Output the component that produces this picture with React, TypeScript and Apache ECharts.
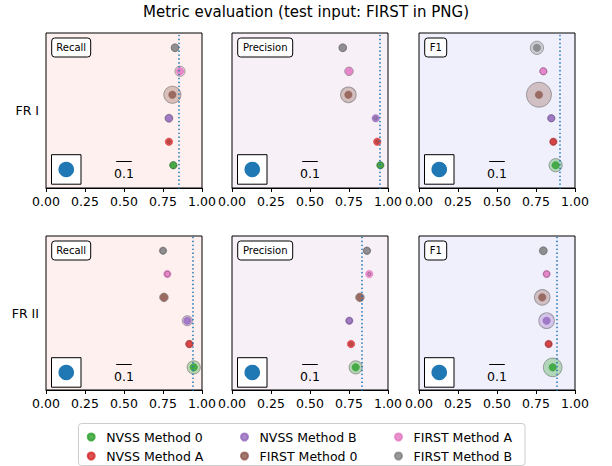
import React, { useEffect, useRef } from "react";
import * as echarts from "echarts";

// ---------------- data ----------------
const TITLE = "Metric evaluation (test input: FIRST in PNG)";
const ROW_LABELS = ["FR I", "FR II"];
const METRICS = ["Recall", "Precision", "F1"];
const METHODS = [
  "NVSS Method 0",
  "NVSS Method A",
  "NVSS Method B",
  "FIRST Method 0",
  "FIRST Method A",
  "FIRST Method B",
];
const COLORS = ["#2ca02c", "#d62728", "#9467bd", "#8c564b", "#e377c2", "#7f7f7f"];

// values in METHODS order
const FR1_RECALL = [0.816, 0.788, 0.788, 0.81, 0.859, 0.827];
const FR1_PRECISION = [0.951, 0.931, 0.921, 0.746, 0.75, 0.71];
const FR1_F1 = [0.876, 0.861, 0.848, 0.769, 0.797, 0.756];
const FR2_RECALL = [0.947, 0.919, 0.906, 0.756, 0.778, 0.75];
const FR2_PRECISION = [0.793, 0.763, 0.752, 0.82, 0.88, 0.865];
const FR2_F1 = [0.857, 0.831, 0.818, 0.79, 0.818, 0.797];

// uncertainty (circle diameter, in x-axis units)
const FR1_RECALL_ERR = [0.045, 0.02, 0.05, 0.11, 0.065, 0.05];
const FR1_PRECISION_ERR = [0.04, 0.02, 0.02, 0.1, 0.055, 0.05];
const FR1_F1_ERR = [0.085, 0.04, 0.045, 0.16, 0.045, 0.085];
const FR2_RECALL_ERR = [0.085, 0.045, 0.065, 0.055, 0.035, 0.04];
const FR2_PRECISION_ERR = [0.085, 0.02, 0.04, 0.055, 0.02, 0.045];
const FR2_F1_ERR = [0.12, 0.04, 0.1, 0.1, 0.04, 0.05];

// reference (dotted) lines
const FR1_REFS = [0.848, 0.953, 0.897];
const FR2_REFS = [0.936, 0.833, 0.876];

const X_MIN = 0;
const X_MAX = 1;
const X_INTERVAL = 0.25;
const SCALE_REF = 0.1;
const SCALE_LABEL = "0.1";

const VALUES = [
  [FR1_RECALL, FR1_PRECISION, FR1_F1],
  [FR2_RECALL, FR2_PRECISION, FR2_F1],
];
const ERRORS = [
  [FR1_RECALL_ERR, FR1_PRECISION_ERR, FR1_F1_ERR],
  [FR2_RECALL_ERR, FR2_PRECISION_ERR, FR2_F1_ERR],
];
const REFS = [FR1_REFS, FR2_REFS];

// ---------------- layout ----------------
const FONT = "DejaVu Sans";
const PANEL_LEFTS = [46, 232, 419];
const PANEL_TOPS = [33, 236];
const PANEL_HEIGHTS = [155, 154];
const PANEL_W = 156;
const Y_MIN = -0.97;
const Y_MAX = 5.63;
const BG = ["#fdf0ef", "#f7f0f7", "#f0f0fd"];
const LABEL_BOX_W = [39, 55, 22];
const LEG_COL_X = [96.7, 250, 404];
const LEG_ROW_Y = [434, 453];

function rgba(hex: string, a: number) {
  const n = parseInt(hex.slice(1), 16);
  return `rgba(${(n >> 16) & 255},${(n >> 8) & 255},${n & 255},${a})`;
}

function buildOption() {
  const grids: any[] = [];
  const xAxes: any[] = [];
  const yAxes: any[] = [];
  const series: any[] = [];
  const graphics: any[] = [];

  for (let r = 0; r < 2; r++) {
    for (let c = 0; c < 3; c++) {
      const g = r * 3 + c;
      const left = PANEL_LEFTS[c];
      const top = PANEL_TOPS[r];
      grids.push({
        left,
        top,
        width: PANEL_W,
        height: PANEL_HEIGHTS[r],
        show: true,
        backgroundColor: BG[c],
        borderColor: "#000",
        borderWidth: 1,
      });
      xAxes.push({
        type: "value",
        gridIndex: g,
        position: "bottom",
        min: X_MIN,
        max: X_MAX,
        interval: X_INTERVAL,
        axisLine: { show: true, onZero: false, lineStyle: { color: "#000", width: 1 } },
        axisTick: { show: true, length: 4, lineStyle: { color: "#000", width: 1 } },
        axisLabel: {
          formatter: (v: number) => v.toFixed(2),
          fontSize: 12.5,
          fontFamily: FONT,
          color: "#000",
          margin: 7,
          showMinLabel: true,
          showMaxLabel: true,
        },
        splitLine: { show: false },
      });
      yAxes.push({
        type: "value",
        gridIndex: g,
        min: Y_MIN,
        max: Y_MAX,
        show: false,
      });

      const vals = VALUES[r][c];
      const errs = ERRORS[r][c];
      for (let m = 0; m < METHODS.length; m++) {
        const dot: any = {
          type: "scatter",
          name: METHODS[m],
          xAxisIndex: g,
          yAxisIndex: g,
          data: [[vals[m], m]],
          symbol: "circle",
          symbolSize: 7.5,
          itemStyle: { color: COLORS[m], borderColor: COLORS[m], borderWidth: 0.5 },
          z: 2,
          silent: true,
        };
        if (m === 0) {
          dot.markLine = {
            silent: true,
            symbol: ["none", "none"],
            label: { show: false },
            lineStyle: { color: "#1f77b4", type: [0.01, 3.9], width: 1.7, cap: "round" },
            data: [{ xAxis: REFS[r][c] }],
          };
        }
        series.push(dot);
        series.push({
          type: "scatter",
          name: METHODS[m] + " err",
          xAxisIndex: g,
          yAxisIndex: g,
          data: [[vals[m], m]],
          symbol: "circle",
          symbolSize: errs[m] * PANEL_W,
          itemStyle: {
            color: rgba(COLORS[m], 0.4),
            borderColor: "rgba(70,70,70,0.55)",
            borderWidth: 1,
          },
          z: 3,
          silent: true,
        });
      }

      // metric label box
      graphics.push({
        type: "rect",
        z: 50,
        shape: { x: left + 5.7, y: top + 5, width: LABEL_BOX_W[c], height: 19, r: 3 },
        style: { fill: "#fff", stroke: "#000", lineWidth: 1 },
      });
      graphics.push({
        type: "text",
        z: 51,
        x: left + 5.7 + LABEL_BOX_W[c] / 2,
        y: top + 5 + 9.5,
        style: {
          text: METRICS[c],
          fontSize: 10,
          fontFamily: FONT,
          fill: "#000",
          align: "center",
          verticalAlign: "middle",
        },
      });
      // size reference box
      const bx = left + 5.5;
      const by = top + 121.7;
      graphics.push({
        type: "rect",
        z: 50,
        shape: { x: bx, y: by, width: 29.5, height: 29.5 },
        style: { fill: "#fff", stroke: "#000", lineWidth: 1 },
      });
      graphics.push({
        type: "circle",
        z: 51,
        shape: { cx: bx + 14.75, cy: by + 14.75, r: (SCALE_REF * PANEL_W) / 2 },
        style: { fill: "#1f77b4" },
      });
      // scale bar
      const cx = left + 0.5 * PANEL_W;
      graphics.push({
        type: "line",
        z: 50,
        shape: {
          x1: cx - (SCALE_REF / 2) * PANEL_W,
          y1: top + 128.5,
          x2: cx + (SCALE_REF / 2) * PANEL_W,
          y2: top + 128.5,
        },
        style: { stroke: "#000", lineWidth: 1 },
      });
      graphics.push({
        type: "text",
        z: 50,
        x: cx,
        y: top + 140,
        style: {
          text: SCALE_LABEL,
          fontSize: 12.5,
          fontFamily: FONT,
          fill: "#000",
          align: "center",
          verticalAlign: "middle",
        },
      });
    }
    // row label
    graphics.push({
      type: "text",
      z: 50,
      x: 39,
      y: PANEL_TOPS[r] + PANEL_HEIGHTS[r] / 2,
      style: {
        text: ROW_LABELS[r],
        fontSize: 12.5,
        fontFamily: FONT,
        fill: "#000",
        align: "right",
        verticalAlign: "middle",
      },
    });
  }

  // legend frame
  graphics.push({
    type: "rect",
    z: 0,
    shape: { x: 78.5, y: 423.5, width: 446.5, height: 42, r: 3 },
    style: { fill: "#fff", stroke: "#cccccc", lineWidth: 1 },
  });

  const legends = METHODS.map((name, i) => {
    const col = Math.floor(i / 2);
    const row = i % 2;
    return {
      data: [name],
      left: LEG_COL_X[col] - 10,
      top: LEG_ROW_Y[row] - 3.5,
      orient: "horizontal",
      icon: "circle",
      itemWidth: 20,
      itemHeight: 7,
      padding: 0,
      itemGap: 0,
      selectedMode: false,
      z: 10,
      textStyle: { fontSize: 12.5, fontFamily: FONT, color: "#000" },
    };
  });

  return {
    animation: false,
    backgroundColor: "#fff",
    title: {
      text: TITLE,
      left: "center",
      top: 4,
      padding: 0,
      textStyle: { fontSize: 15, fontWeight: "normal", fontFamily: FONT, color: "#000" },
    },
    legend: legends,
    grid: grids,
    xAxis: xAxes,
    yAxis: yAxes,
    series,
    graphic: { elements: graphics },
  };
}

export default function App() {
  const ref = useRef<HTMLDivElement>(null);
  useEffect(() => {
    if (!ref.current) return;
    const chart = echarts.init(ref.current, undefined, { renderer: "svg" });
    chart.setOption(buildOption() as any);
    return () => chart.dispose();
  }, []);
  return (
    <div
      ref={ref}
      style={{ position: "absolute", left: 0, top: 0, width: 612, height: 466, background: "#fff" }}
    />
  );
}
